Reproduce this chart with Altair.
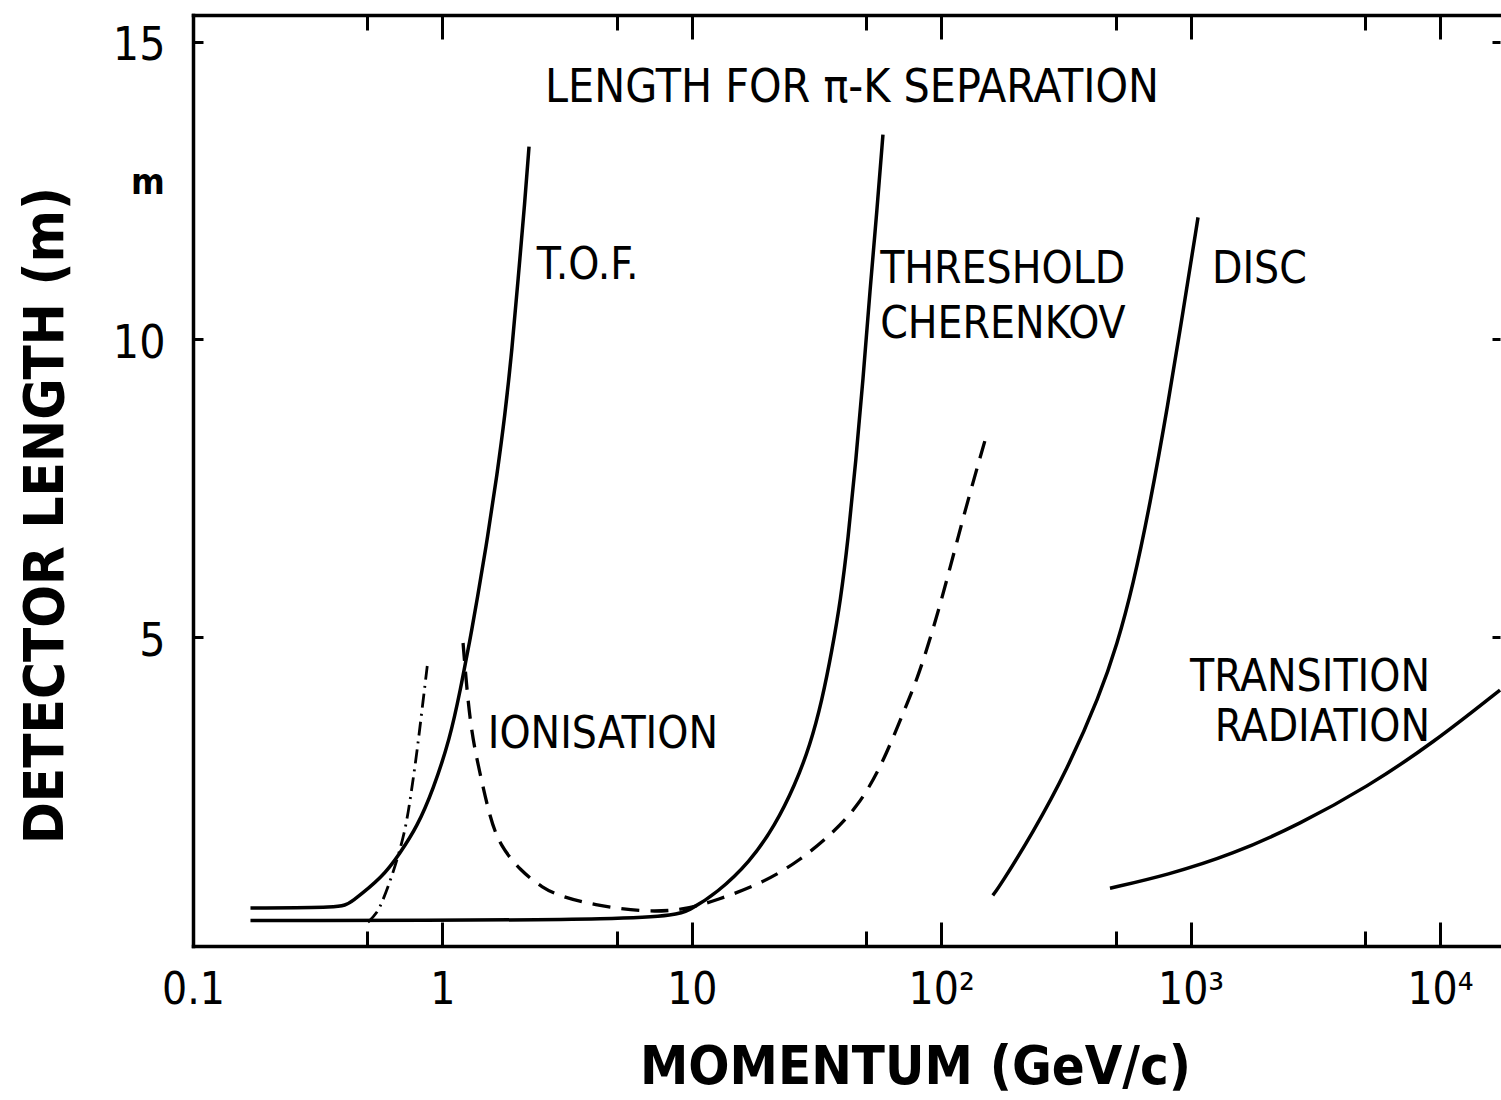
import json

import altair as alt
import pandas as pd

# ---- curves: momentum p (GeV/c) against detector length L (m) ----
TOF_P = [0.17, 0.395, 0.426, 0.578, 0.676, 0.791, 0.917, 1.073, 1.18, 1.29,
         1.377, 1.523, 1.655, 1.782, 1.901, 2.010, 2.144, 2.225]
TOF_L = [0.45, 0.45, 0.53, 0.97, 1.37, 1.81, 2.43, 3.30, 4.11, 4.95,
         5.62, 6.71, 7.72, 8.73, 9.82, 11.0, 12.34, 13.24]

CHER_P = [0.17, 7.81, 9.83, 12.6, 17.1, 21.6, 25.9, 29.8, 33.3, 36.5, 39.5,
          42.3, 45.5, 48.6, 51.8, 55.3, 58.4]
CHER_L = [0.24, 0.24, 0.41, 0.70, 1.22, 1.84, 2.51, 3.18, 3.94, 4.78, 5.62,
          6.63, 7.97, 9.32, 10.83, 12.18, 13.44]

DISC_P = [161, 172, 233, 319, 433, 507, 588, 687, 811, 932, 1071]
DISC_L = [0.66, 0.82, 1.71, 2.76, 4.03, 4.87, 5.87, 7.22, 8.90, 10.46, 12.05]

TR_P = [475, 804, 1479, 2746, 5098, 9370, 17400]
TR_L = [0.78, 1.00, 1.35, 1.86, 2.48, 3.22, 4.11]

# ionisation: relativistic-rise branch (dashed) and low-momentum branch (dash-dot)
ION_P = [1.21, 1.29, 1.415, 1.55, 1.70, 2.05, 2.53, 2.96, 4.02, 6.37, 9.22, 12.6,
         19.3, 27.2, 36.8, 45.9, 56.8, 70.3, 80.0, 92.7, 105.5, 124.6, 150]
ION_L = [4.90, 3.49, 2.71, 1.97, 1.50, 1.08, 0.78, 0.65, 0.50, 0.38, 0.41, 0.58,
         0.87, 1.25, 1.71, 2.14, 2.77, 3.72, 4.28, 5.12, 5.96, 7.13, 8.31]

ION_LOW_P = [0.503, 0.547, 0.578, 0.634, 0.708, 0.748, 0.791, 0.828, 0.875]
ION_LOW_L = [0.21, 0.36, 0.58, 1.03, 1.71, 2.35, 3.07, 3.77, 4.61]

# ---- axes ----
X_MAJOR = [0.1, 1, 10, 100, 1000, 10000]
X_TICK_LABELS = ["0.1", "1", "10", "10²", "10³", "10⁴"]
X_ALL_TICKS = [0.1, 0.5, 1, 5, 10, 50, 100, 500, 1000, 5000, 10000]
Y_TICKS = [5, 10, 15]
X_DOMAIN = [0.1, 17400]
Y_DOMAIN = [-0.19, 15.45]

# ---- curve annotations ----
TITLE_TEXT = ["LENGTH FOR π-K  SEPARATION"]
TITLE_P = [2.58]
TITLE_L = [14.23]

LEFT_TEXT = ["T.O.F.", "THRESHOLD", "CHERENKOV", "DISC", "IONISATION"]
LEFT_P = [2.39, 56.9, 56.9, 1218, 1.52]
LEFT_L = [11.24, 11.17, 10.24, 11.17, 3.36]

RIGHT_TEXT = ["TRANSITION", "RADIATION"]
RIGHT_P = [9120, 9120]
RIGHT_L = [4.31, 3.47]

UNIT_TEXT = ["m"]
UNIT_P = [0.066]
UNIT_L = [12.63]

W, H = 1307, 931
FONT = "Liberation Sans Narrow, DejaVu Sans Condensed, Liberation Sans, sans-serif"


def curves(named):
    rows = []
    for name, ps, ls in named:
        rows += [{"curve": name, "p": p, "L": l} for p, l in zip(ps, ls)]
    return pd.DataFrame(rows)


solid_df = curves([("tof", TOF_P, TOF_L), ("cherenkov", CHER_P, CHER_L),
                   ("disc", DISC_P, DISC_L), ("tr", TR_P, TR_L)])
dash_df = curves([("ion", ION_P, ION_L)])
dashdot_df = curves([("ion_low", ION_LOW_P, ION_LOW_L)])

title_df = pd.DataFrame({"text": TITLE_TEXT, "p": TITLE_P, "L": TITLE_L})
left_df = pd.DataFrame({"text": LEFT_TEXT, "p": LEFT_P, "L": LEFT_L})
right_df = pd.DataFrame({"text": RIGHT_TEXT, "p": RIGHT_P, "L": RIGHT_L})
unit_df = pd.DataFrame({"text": UNIT_TEXT, "p": UNIT_P, "L": UNIT_L})

x_scale = alt.Scale(type="log", domain=X_DOMAIN, nice=False)
y_scale = alt.Scale(domain=Y_DOMAIN, nice=False, zero=False)

major_test = "abs(log(datum.value) / LN10 - round(log(datum.value) / LN10)) < 0.01"
x_tick_len = {"expr": f"{major_test} ? 24 : 15"}
label_expr = json.dumps(X_TICK_LABELS, ensure_ascii=False) + "[round(log(datum.value) / LN10) + 1]"

frame = dict(domainColor="black", domainWidth=3.5, domainCap="square", grid=False,
             tickColor="black", tickWidth=3)

# labels and titles outside the frame
axis_x_labels = alt.Axis(orient="bottom", values=X_MAJOR, labelExpr=label_expr, ticks=False,
                         domain=False, grid=False, labelFont=FONT, labelFontSize=44,
                         labelColor="black", labelPadding=22, labelFlush=False, labelOverlap=False,
                         title="MOMENTUM  (GeV/c)", titleFont=FONT, titleFontSize=54,
                         titleFontWeight="bold", titleColor="black", titleX=722, titleY=137,
                         titleAlign="center", titleBaseline="alphabetic", titleAngle=0)
axis_y_labels = alt.Axis(orient="left", values=Y_TICKS, ticks=False, labelFont=FONT,
                         labelFontSize=46, labelColor="black", labelPadding=28, labelOffset=4,
                         title="DETECTOR LENGTH (m)", titleFont=FONT, titleFontSize=56,
                         titleFontWeight="bold", titleColor="black", titleX=-148, titleY=500,
                         titleAngle=270, titleAlign="center", titleBaseline="middle", **frame)

# inward-pointing ticks: axes flipped onto the opposite edge of the frame
axis_x_bottom_in = alt.Axis(orient="top", offset=-H, values=X_ALL_TICKS, labels=False,
                            tickSize=x_tick_len, **frame)
axis_x_top_in = alt.Axis(orient="bottom", offset=-H, values=X_ALL_TICKS, labels=False,
                         tickSize=x_tick_len, **frame)
axis_y_left_in = alt.Axis(orient="right", offset=-W, values=Y_TICKS, labels=False,
                          domain=False, tickSize=10, grid=False, tickColor="black", tickWidth=3)
axis_y_right_in = alt.Axis(orient="left", offset=-W, values=Y_TICKS, labels=False,
                           domain=False, tickSize=8, grid=False, tickColor="black", tickWidth=3)

solid = alt.Chart(solid_df).mark_line(
    color="black", strokeWidth=3.5, interpolate="basis"
).encode(
    x=alt.X("p:Q", scale=x_scale, axis=axis_x_labels),
    y=alt.Y("L:Q", scale=y_scale, axis=axis_y_labels),
    detail="curve:N",
)

dashed = alt.Chart(dash_df).mark_line(
    color="black", strokeWidth=3.3, strokeDash=[18, 11], interpolate="basis"
).encode(
    x=alt.X("p:Q", scale=x_scale, axis=axis_x_bottom_in, title=None),
    y=alt.Y("L:Q", scale=y_scale, axis=axis_y_left_in, title=None),
    detail="curve:N",
)

dashdot = alt.Chart(dashdot_df).mark_line(
    color="black", strokeWidth=2.8, strokeDash=[14, 6, 2, 6], interpolate="basis"
).encode(
    x=alt.X("p:Q", scale=x_scale, axis=axis_x_top_in, title=None),
    y=alt.Y("L:Q", scale=y_scale, axis=axis_y_right_in, title=None),
    detail="curve:N",
)


def text_layer(df, align, size, weight="normal"):
    return alt.Chart(df).mark_text(
        align=align, baseline="middle", font=FONT, fontSize=size,
        fontWeight=weight, color="black"
    ).encode(
        x=alt.X("p:Q", scale=x_scale, axis=None),
        y=alt.Y("L:Q", scale=y_scale, axis=None),
        text="text:N",
    )


chart = alt.layer(
    solid, dashed, dashdot,
    text_layer(title_df, "left", 46),
    text_layer(left_df, "left", 44),
    text_layer(right_df, "right", 44),
    text_layer(unit_df, "center", 36, "bold"),
).resolve_axis(
    x="independent", y="independent"
).properties(
    width=W, height=H,
    padding={"left": 193, "top": 15, "right": 1, "bottom": 154},
    autosize=alt.AutoSizeParams(type="none"),
    background="white",
).configure_view(stroke=None)

chart.save("out.html", embed_options={"renderer": "svg", "actions": False})
